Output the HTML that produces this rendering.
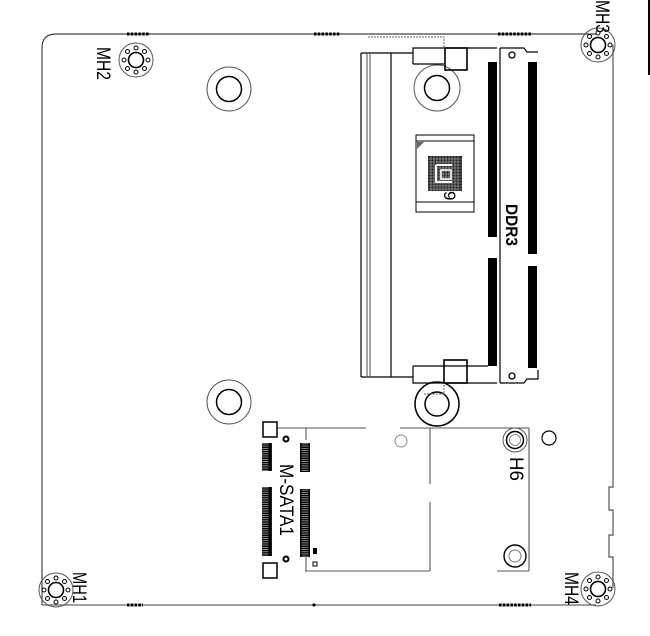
<!DOCTYPE html>
<html><head><style>
html,body{margin:0;padding:0;background:#fff;}
svg{display:block;}
text{font-family:"Liberation Sans",sans-serif;}
</style></head><body>
<svg width="650" height="636" viewBox="0 0 650 636" xmlns="http://www.w3.org/2000/svg">
<defs>
<g id="mh">
<circle r="17" fill="none" stroke="#555" stroke-width="1"/>
<circle r="7.5" fill="none" stroke="#000" stroke-width="1.6"/>
<circle cx="0" cy="-12" r="2" fill="none" stroke="#000" stroke-width="1"/>
<circle cx="8.5" cy="-8.5" r="2" fill="none" stroke="#000" stroke-width="1"/>
<circle cx="12" cy="0" r="2" fill="none" stroke="#000" stroke-width="1"/>
<circle cx="8.5" cy="8.5" r="2" fill="none" stroke="#000" stroke-width="1"/>
<circle cx="0" cy="12" r="2" fill="none" stroke="#000" stroke-width="1"/>
<circle cx="-8.5" cy="8.5" r="2" fill="none" stroke="#000" stroke-width="1"/>
<circle cx="-12" cy="0" r="2" fill="none" stroke="#000" stroke-width="1"/>
<circle cx="-8.5" cy="-8.5" r="2" fill="none" stroke="#000" stroke-width="1"/>
</g>
<pattern id="pins" width="10" height="2.2" patternUnits="userSpaceOnUse">
<rect width="10" height="2.2" fill="#000"/><rect x="1.5" y="1.4" width="7" height="0.6" fill="#ddd"/>
</pattern>
</defs>
<!-- board outline -->
<path d="M42,605 L42,48 Q42,34 56,34 L596,34" fill="none" stroke="#444" stroke-width="1.2"/>
<path d="M42,605 L596,605" fill="none" stroke="#666" stroke-width="1.2"/>
<path d="M613,45 L613,487 L609,487 L609,510 L613,510 L613,535 L609,535 L609,557 L613,557 L613,588" fill="none" stroke="#555" stroke-width="1.2"/>
<!-- edge dots -->
<line x1="127" y1="34" x2="150" y2="34" stroke="#000" stroke-width="3" stroke-dasharray="2.5 1.3"/>
<line x1="314" y1="34" x2="340" y2="34" stroke="#000" stroke-width="3" stroke-dasharray="2.5 1.3"/>
<line x1="498" y1="34" x2="531" y2="34" stroke="#000" stroke-width="3" stroke-dasharray="2.5 1.3"/>
<line x1="127" y1="605" x2="143" y2="605" stroke="#000" stroke-width="3" stroke-dasharray="2.5 1.3"/>
<circle cx="314" cy="605" r="1.6" fill="#000"/>
<line x1="499" y1="605" x2="531" y2="605" stroke="#000" stroke-width="3" stroke-dasharray="2.5 1.3"/>
<!-- mounting holes -->
<use href="#mh" x="136" y="60"/>
<use href="#mh" x="598" y="45"/>
<use href="#mh" x="598" y="589"/>
<use href="#mh" x="56" y="590"/>
<g font-size="19" fill="#000">
<text transform="translate(97,47) rotate(90)" textLength="33" lengthAdjust="spacingAndGlyphs">MH2</text>
<text transform="translate(596,0) rotate(90)" textLength="33" lengthAdjust="spacingAndGlyphs">MH3</text>
<text transform="translate(565,572) rotate(90)" textLength="33" lengthAdjust="spacingAndGlyphs">MH4</text>
<text transform="translate(73,572) rotate(90)" textLength="31" lengthAdjust="spacingAndGlyphs">MH1</text>
</g>
<!-- standoffs -->
<circle cx="229" cy="89" r="22" fill="none" stroke="#555" stroke-width="1"/>
<circle cx="229" cy="89" r="12.5" fill="none" stroke="#000" stroke-width="1.5"/>
<circle cx="229" cy="402" r="22" fill="none" stroke="#555" stroke-width="1"/>
<circle cx="229" cy="402" r="12.5" fill="none" stroke="#000" stroke-width="1.5"/>
<circle cx="437" cy="88" r="23" fill="none" stroke="#555" stroke-width="1"/>
<circle cx="437" cy="88" r="12.5" fill="none" stroke="#000" stroke-width="1.5"/>
<circle cx="437" cy="404" r="22" fill="none" stroke="#000" stroke-width="1.5"/>
<circle cx="437" cy="404" r="12" fill="none" stroke="#000" stroke-width="1.5"/>
<!-- DDR3 socket -->
<g fill="none" stroke="#000" stroke-width="1.2">
<path d="M361,53 L413,53 L413,48 L497,48"/>
<path d="M361,377 L413,377 L413,383 L497,383"/>
<line x1="361" y1="53" x2="361" y2="377"/>
<line x1="367" y1="53" x2="367" y2="377" stroke="#666"/>
<line x1="370" y1="53" x2="370" y2="377" stroke="#666"/>
<line x1="391" y1="53" x2="391" y2="377"/>
<line x1="413" y1="53" x2="413" y2="64"/>
<line x1="413" y1="64" x2="444" y2="64"/>
<line x1="413" y1="366" x2="413" y2="377"/>
<line x1="413" y1="366" x2="488" y2="366"/>
<rect x="445" y="48" width="22" height="22" stroke-width="1.6"/>
<rect x="444" y="360" width="23" height="23" stroke-width="1.6"/>
<path d="M500,48 L500,383"/>
<path d="M500,48 L524,48 L527,52 L538,52"/>
<path d="M500,383 L524,383 L527,379 L538,379 L538,370"/>
</g>
<path d="M368,37 L444,37 L444,48" fill="none" stroke="#666" stroke-dasharray="2 1"/>
<path d="M424,394 L444,394 L444,383" fill="none" stroke="#666" stroke-dasharray="2 1"/>
<circle cx="512" cy="55" r="3" fill="none" stroke="#000" stroke-width="1.3"/>
<circle cx="512" cy="376" r="3" fill="none" stroke="#000" stroke-width="1.3"/>
<rect x="488" y="62" width="9" height="175" fill="#000"/>
<rect x="488" y="258" width="9" height="108" fill="#000"/>
<rect x="528" y="62" width="9" height="192" fill="#000"/>
<rect x="528" y="266" width="9" height="102" fill="#000"/>
<text transform="translate(506,204) rotate(90)" font-size="17" font-weight="bold" textLength="42" lengthAdjust="spacingAndGlyphs">DDR3</text>
<!-- chip -->
<g fill="none" stroke="#000" stroke-width="1">
<rect x="416" y="135" width="58" height="77"/>
<line x1="416" y1="141" x2="474" y2="141"/>
<line x1="416" y1="202" x2="474" y2="202"/>
</g>
<path d="M417,142 L424,142 L417,149Z" fill="#666"/>
<rect x="428" y="156" width="34" height="35" fill="#222"/>
<g stroke="#bbb" stroke-width="0.6">
<path d="M428,159H462M428,162H462M428,165H462M428,168H462M428,171H462M428,174H462M428,177H462M428,180H462M428,183H462M428,186H462M428,189H462"/>
<path d="M431,156V191M434,156V191M437,156V191M440,156V191M443,156V191M446,156V191M449,156V191M452,156V191M455,156V191M458,156V191"/>
</g>
<path d="M436,165 L436,182 L452,182 M436,165 L452,165" fill="none" stroke="#fff" stroke-width="2"/>
<rect x="441" y="170" width="10" height="9" fill="none" stroke="#fff" stroke-width="1.5"/>
<text transform="translate(444,191) rotate(90)" font-size="17">9</text>
<!-- M-SATA -->
<g fill="none" stroke="#555" stroke-width="1.1">
<line x1="277" y1="428" x2="366" y2="428"/>
<line x1="400" y1="428" x2="529" y2="428"/>
<line x1="430" y1="428" x2="430" y2="484"/>
<line x1="430" y1="502" x2="430" y2="571"/>
<line x1="305" y1="571" x2="430" y2="571"/>
<line x1="497" y1="571" x2="529" y2="571"/>
<line x1="529" y1="428" x2="529" y2="571"/>
<line x1="306" y1="428" x2="306" y2="440"/>
<line x1="306" y1="557" x2="306" y2="571"/>
</g>
<rect x="263" y="422" width="14" height="15" fill="none" stroke="#000" stroke-width="1.5"/>
<rect x="263" y="563" width="14" height="15" fill="none" stroke="#000" stroke-width="1.5"/>
<rect x="262" y="443" width="10" height="28" fill="url(#pins)"/>
<rect x="262" y="487" width="10" height="69" fill="url(#pins)"/>
<rect x="300" y="443" width="10" height="29" fill="url(#pins)"/>
<rect x="300" y="489" width="10" height="68" fill="url(#pins)"/>
<circle cx="286" cy="439" r="2.5" fill="none" stroke="#000" stroke-width="2"/>
<circle cx="286" cy="559" r="2.5" fill="none" stroke="#000" stroke-width="2"/>
<rect x="313" y="548" width="4" height="6" fill="#000"/>
<rect x="313" y="562" width="4" height="4" fill="none" stroke="#000"/>
<text transform="translate(280,464) rotate(90)" font-size="19" textLength="72" lengthAdjust="spacingAndGlyphs">M-SATA1</text>
<circle cx="401" cy="441" r="6" fill="none" stroke="#888" stroke-width="1"/>
<circle cx="515" cy="440" r="12" fill="none" stroke="#555" stroke-width="1"/>
<circle cx="515" cy="440" r="8.5" fill="none" stroke="#000" stroke-width="1.5"/>
<circle cx="515" cy="440" r="5.5" fill="none" stroke="#888" stroke-width="1"/>
<circle cx="515" cy="556" r="11" fill="none" stroke="#000" stroke-width="1.4"/>
<circle cx="515" cy="556" r="6" fill="none" stroke="#777" stroke-width="1"/>
<circle cx="549" cy="438" r="7" fill="none" stroke="#000" stroke-width="1.2"/>
<text transform="translate(510,457) rotate(90)" font-size="19" textLength="24" lengthAdjust="spacingAndGlyphs">H6</text>
<!-- right edge bar -->
<rect x="648" y="0" width="2" height="75" fill="#000"/>
</svg>
</body></html>
